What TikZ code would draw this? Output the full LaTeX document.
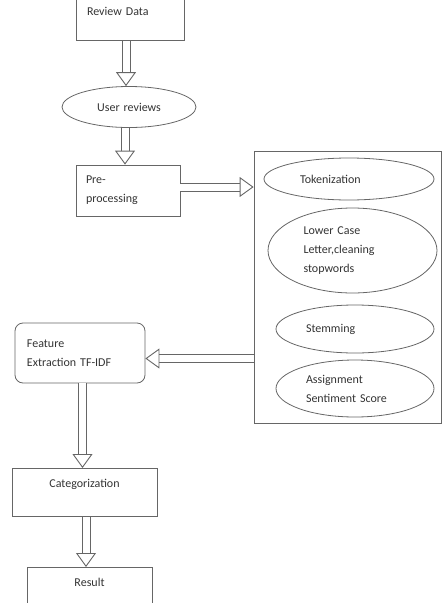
\documentclass[tikz,border=0pt]{standalone}
\usepackage{fontspec}
\setmainfont{Carlito}
\usetikzlibrary{shapes.geometric,arrows.meta}
\tikzset{
  box/.style={draw=black!60,line width=0.8pt,rectangle,inner sep=0pt,text=black!80},
  oval/.style={draw=black!60,line width=0.8pt,ellipse,inner sep=0pt,text=black!80,
    text width=98pt,align=left},
  shaft/.style={draw=black!60,line width=1pt,double=white,double distance=7pt,shorten >=13.5pt},
  head/.style={draw=white,line width=0.5pt,-{Triangle[open,length=14pt,width=20pt,color=black!60,line width=0.9pt]}}
}
\begin{document}
\begin{tikzpicture}[x=1pt,y=-1pt,font=\fontsize{12}{19}\selectfont]
\useasboundingbox (0,0) rectangle (443,603);
\clip (0,0) rectangle (443,603);
% left column
\node[box,anchor=south,minimum width=108pt,text width=86pt,align=left,
  inner ysep=4pt,text height=31pt,text depth=21pt](review) at(130,41){Review Data};
\node[oval,minimum width=134pt,minimum height=41pt,text width=70pt,align=center](users) at(129,107){User reviews};
\node[box,minimum width=104pt,minimum height=51pt,text width=84pt,align=left](pre) at(128,190.5){Pre-\\processing};
\node[box,rounded corners=8pt,minimum width=130pt,minimum height=60pt,text width=106pt,align=left](feature) at(80,353){Feature\\Extraction TF-IDF};
\node[box,anchor=north,minimum width=145pt,text width=145pt,align=center,
  inner ysep=4pt,text height=15pt,text depth=25pt](cat) at(84.5,468){Categorization};
\node[box,anchor=north,minimum width=125pt,text width=125pt,align=center,
  inner ysep=4pt,text height=15pt,text depth=50pt](result) at(89.5,567){Result};
% right group
\node[box,minimum width=187pt,minimum height=272pt](group) at(347.5,287){};
\node[oval,minimum width=170pt,minimum height=42pt](token) at(349,179){Tokenization};
\node[oval,minimum width=169pt,minimum height=85pt](lower) at(352.5,250.5){Lower Case\\Letter,cleaning\\stopwords};
\node[oval,minimum width=158pt,minimum height=48pt](stem) at(355,329){Stemming};
\node[oval,minimum width=158pt,minimum height=57pt](assign) at(355,388.5){Assignment\\Sentiment Score};
% arrow ends
\coordinate (r1) at (126,0 |- review.south);
\coordinate (u1) at (126,0 |- users.north);
\coordinate (u2) at (125,0 |- users.south);
\coordinate (p1) at (125,0 |- pre.north);
\coordinate (p2) at (pre.east |- 0,187);
\coordinate (g1) at (group.west |- 0,187);
\coordinate (g2) at (group.west |- 0,358.5);
\coordinate (f1) at (feature.east |- 0,358.5);
\coordinate (f2) at (82.5,0 |- feature.south);
\coordinate (c1) at (82.5,0 |- cat.north);
\coordinate (c2) at (86,0 |- cat.south);
\coordinate (e1) at (86,0 |- result.north);
\foreach \s/\t in {r1/u1,u2/p1,p2/g1,g2/f1,f2/c1,c2/e1}{
  \draw[shaft](\s)--(\t);
  \draw[head](\s)--(\t);
}
\end{tikzpicture}
\end{document}
